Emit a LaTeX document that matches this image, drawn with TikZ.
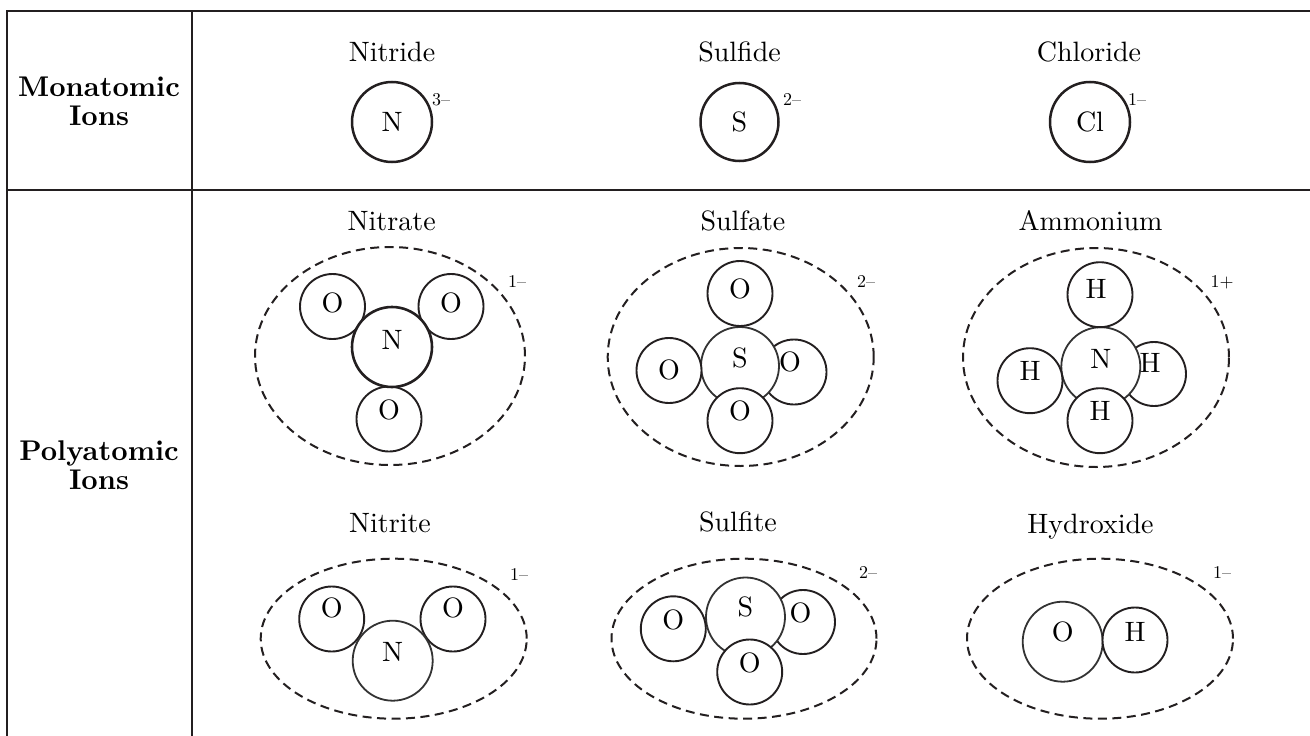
\documentclass[tikz,border=0pt]{standalone}
\usepackage{fontspec}
\setmainfont{lmroman10-regular.otf}[BoldFont=lmroman10-bold.otf]
\usetikzlibrary{shapes.geometric}
\definecolor{ink}{HTML}{231F20}
\newcommand{\bigtxt}{\fontsize{28}{29}\selectfont}
\newcommand{\rowtxt}{\fontsize{28.5}{28.5}\selectfont}
\newcommand{\chgtxt}{\fontsize{18}{18}\selectfont}
\tikzset{
  grid/.style={draw=ink, line width=2pt},
  lbl/.style={anchor=base, font=\bigtxt, inner sep=0pt},
  rowlbl/.style={align=center, font=\rowtxt\bfseries, inner sep=0pt},
  chg/.style={font=\chgtxt, inner sep=0pt},
  ion/.style={draw=ink, line width=2pt, dash pattern=on 9pt off 5.5pt},
  atom/.style 2 args={circle, draw=ink, fill=white, line width=1.9pt,
    minimum size=#1, inner sep=0pt, font=\bigtxt, text height=19pt, text depth=#2},
  mono/.style={atom={80pt}{0pt}, line width=2.5pt},
  core/.style={draw=black!80, line width=1.8pt},
}
\begin{document}
\begin{tikzpicture}[x=1pt,y=-1pt]
\useasboundingbox (0,0) rectangle (1310,736);
% table
\coordinate (tl) at (7,11);
\coordinate (tr) at (1310,11);
\coordinate (bl) at (7,736);
\coordinate (ct) at (191.5,11);
\coordinate (cb) at (191.5,736);
\coordinate (rl) at (7,189.5);
\coordinate (rr) at (1310,189.5);
\draw[grid] (tr) -- (tl) -- (bl);
\draw[grid] (ct) -- (cb);
\draw[grid] (rl) -- (rr);
\node[rowlbl] (rMono) at (99,101.5) {Monatomic\\Ions};
\node[rowlbl] (rPoly) at (99,465) {Polyatomic\\Ions};

% monatomic
\node[lbl] (tNitride) at (392,61) {Nitride};
\node[mono] (mN) at (392,122) {N};
\node[chg] (cNitride) at (441,100) {3\textendash};
\node[lbl] (tSulfide) at (739.5,61) {Sulfide};
\node[mono, minimum size=78pt] (mS) at (739.5,122) {S};
\node[chg] (cSulfide) at (792,100) {2\textendash};
\node[lbl] (tChloride) at (1089,61) {Chloride};
\node[mono] (mCl) at (1090,122) {Cl};
\node[chg] (cChloride) at (1137,100) {1\textendash};

% nitrate
\node[lbl] (tNitrate) at (391.7,230.5) {Nitrate};
\draw[ion] (390,356) ellipse [x radius=135pt, y radius=109pt];
\node[atom={65pt}{8pt}] (naO1) at (332.5,306.5) {O};
\node[atom={65pt}{8pt}] (naO2) at (451,306.5) {O};
\node[atom={65pt}{18pt}] (naO3) at (389,419) {O};
\node[atom={80pt}{14pt}, line width=2.6pt] (naN) at (392,347) {N};
\node[chg] (cNitrate) at (517,282) {1\textendash};

% sulfate
\node[lbl] (tSulfate) at (743,230.5) {Sulfate};
\draw[ion] (740.7,357) ellipse [x radius=133pt, y radius=109pt];
\node[atom={65pt}{20pt}] (saOr) at (794,372) {O\kern8pt};
\node[atom={78pt}{16pt}, core] (saS) at (740,366) {S};
\node[atom={65pt}{2pt}] (saOl) at (669,370.5) {O};
\node[atom={65pt}{10pt}] (saOt) at (740,293.5) {O};
\node[atom={65pt}{20pt}] (saOb) at (740,420.7) {O};
\node[chg] (cSulfate) at (866,282) {2\textendash};

% ammonium
\node[lbl] (tAmmonium) at (1090.5,230.5) {Ammonium};
\draw[ion] (1096,357.5) ellipse [x radius=133pt, y radius=109.5pt];
\node[atom={64pt}{22pt}] (amHr) at (1154,374) {H\kern8pt};
\node[atom={79pt}{16pt}, core] (amN) at (1100.8,366.7) {N};
\node[atom={65pt}{12pt}] (amHt) at (1100,294.7) {H\kern8pt};
\node[atom={65pt}{20pt}] (amHl) at (1030,380.7) {H};
\node[atom={65pt}{20pt}] (amHb) at (1100,420.7) {H};
\node[chg] (cAmmonium) at (1222,282) {1+};

% nitrite
\node[lbl] (tNitrite) at (390,532) {Nitrite};
\draw[ion] (393.7,638.7) ellipse [x radius=133pt, y radius=80pt];
\node[atom={65pt}{22pt}] (niO1) at (331.7,619) {O};
\node[atom={65pt}{22pt}] (niO2) at (453,619) {O};
\node[atom={80pt}{18pt}, core] (niN) at (392.7,660.7) {N};
\node[chg] (cNitrite) at (519,574) {1\textendash};

% sulfite
\node[lbl] (tSulfite) at (738,531) {Sulfite};
\draw[ion] (744,638.7) ellipse [x radius=132.5pt, y radius=80pt];
\node[atom={64pt}{18pt}] (siOr) at (803,622) {O\kern5pt};
\node[atom={79pt}{20pt}, core] (siS) at (745.5,617) {S};
\node[atom={65pt}{18pt}] (siOl) at (673.3,628.8) {O};
\node[atom={65pt}{18pt}] (siOb) at (749.7,672) {O};
\node[chg] (cSulfite) at (868,573) {2\textendash};

% hydroxide
\node[lbl] (tHydroxide) at (1090.5,533) {Hydroxide};
\draw[ion] (1100,638.7) ellipse [x radius=133pt, y radius=80pt];
\node[atom={80pt}{20pt}, core] (hyO) at (1062.7,641.7) {O};
\node[atom={65pt}{16pt}] (hyH) at (1135,640) {H};
\node[chg] (cHydroxide) at (1222,573) {1\textendash};
\end{tikzpicture}
\end{document}
